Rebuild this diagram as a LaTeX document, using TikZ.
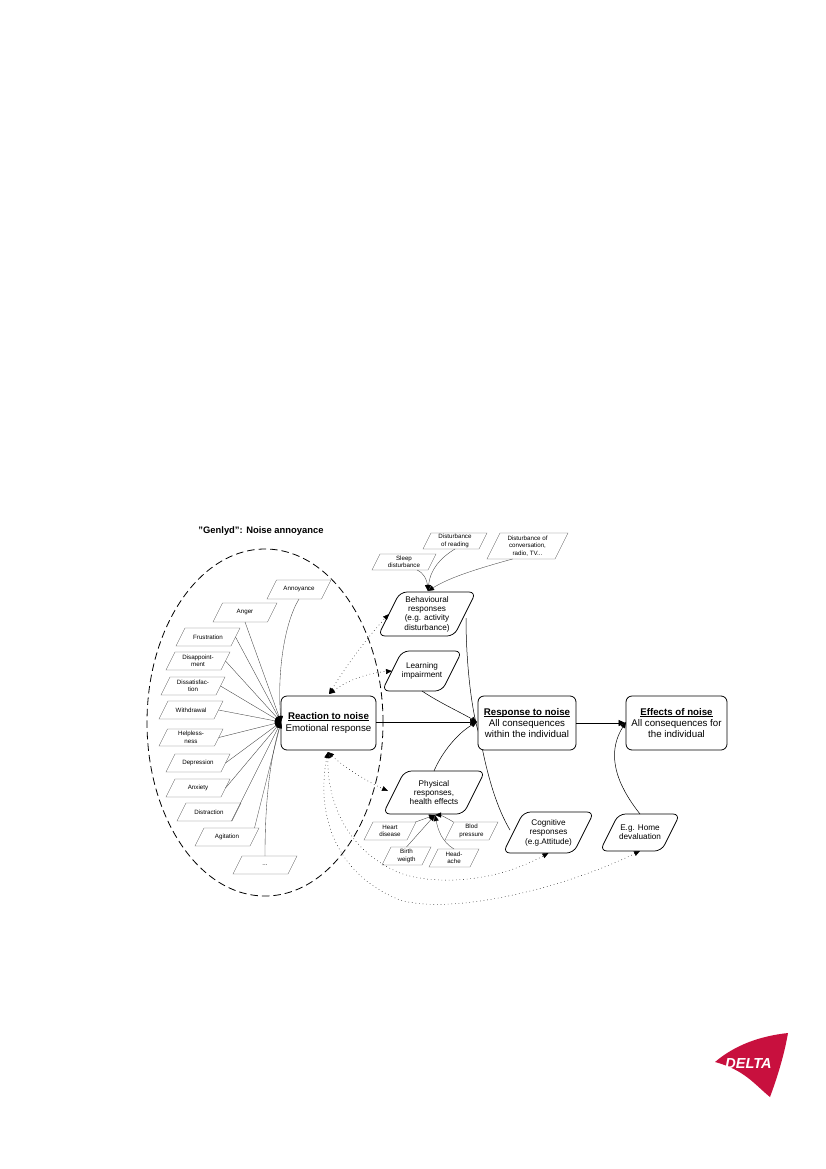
\documentclass[tikz,border=0pt]{standalone}
\usepackage{fontspec}
\setmainfont{Liberation Sans}
\usetikzlibrary{shapes.geometric,arrows.meta}
\definecolor{deltared}{HTML}{C8103E}
\tikzset{
  x=1pt,y=-1pt,
  smallpoly/.style={draw=black!60,line width=.35pt,fill=white},
  midpoly/.style={draw=black,line width=.75pt,rounded corners=7pt,fill=white},
  smalltxt/.style={inner sep=0pt,outer sep=0pt,align=center,font=\fontsize{6.2}{7.5}\selectfont},
  midtxt/.style={inner sep=0pt,outer sep=0pt,align=center,font=\fontsize{8.2}{9.4}\selectfont},
  mainbox/.style={draw=black,line width=.8pt,rounded corners=6pt,fill=white,inner sep=0pt,align=center,font=\fontsize{9.7}{11.4}\selectfont},
  thinl/.style={draw=black!75,line width=.35pt},
  curvel/.style={draw=black,line width=.5pt},
  arr/.style={-{Triangle[length=6pt,width=5pt,black]}},
  solidarr/.style={draw=black,line width=.7pt,-{Triangle[length=7pt,width=6pt]}},
  dotl/.style={draw=black,line width=.5pt,dash pattern=on .6pt off 3pt,{Triangle[length=6pt,width=5pt]}-{Triangle[length=6pt,width=5pt]}},
}
% style prefix, name, cx, cy, width, height, text
\newcommand{\pgm}[7]{%
  \pgfmathsetmacro{\sk}{0.5*#6}
  \path[#1poly] ({#3-#5/2},{#4+#6/2}) -- ({#3-#5/2+\sk},{#4-#6/2}) -- ({#3+#5/2},{#4-#6/2}) -- ({#3+#5/2-\sk},{#4+#6/2}) -- cycle;
  \node[#1txt,minimum width={(#5-\sk)*1pt},minimum height={#6*1pt}] (#2) at (#3,#4) {#7};
}
\newsavebox{\ulbox}
\newcommand{\ulbf}[1]{\sbox{\ulbox}{\bfseries #1}\rlap{\rule[-1.1pt]{\wd\ulbox}{.65pt}}\usebox{\ulbox}}
\begin{document}
\begin{tikzpicture}
\useasboundingbox (0,0) rectangle (826,1169);
\fill[white] (0,0) rectangle (826,1169);
\node[font=\fontsize{9.4}{11}\selectfont\bfseries] (title) at (261,531.5) {"Genlyd": Noise annoyance};
\node[draw=black,dash pattern=on 7.5pt off 4pt,line width=.8pt,shape=ellipse,minimum width=236,minimum height=347,inner sep=0pt] (ell) at (265,722.5) {};

\coordinate (hubR) at (281,722);
\coordinate (hubB) at (428,591);
\coordinate (hubP) at (435,815);
\coordinate (hubS) at (477,722);
\coordinate (hubE) at (626,722);
\coordinate (rtop) at (329,694);
\coordinate (rbot) at (328,752);
\coordinate (pl) at (388,791);

% small nodes
\pgm{small}{annoy}{299}{589.5}{64}{19}{Annoyance}
\pgm{small}{anger}{245}{612.5}{64}{19}{Anger}
\pgm{small}{frus}{208}{637}{64}{18}{Frustration}
\pgm{small}{disa}{198}{661}{64}{18}{Disappoint-\\ment}
\pgm{small}{diss}{193}{686}{64}{18}{Dissatisfac-\\tion}
\pgm{small}{with}{191}{710}{64}{18}{Withdrawal}
\pgm{small}{help}{191}{737.5}{64}{17}{Helpless-\\ness}
\pgm{small}{depr}{198}{763}{64}{18}{Depression}
\pgm{small}{anxi}{198}{788}{64}{18}{Anxiety}
\pgm{small}{dist}{209}{812}{64}{18}{Distraction}
\pgm{small}{agit}{227}{837}{64}{18}{Agitation}
\pgm{small}{etc}{265}{865}{64}{18}{...}
\pgm{small}{sleep}{404}{562}{64}{16}{Sleep\\disturbance}
\pgm{small}{read}{455}{541}{64}{16}{Disturbance\\of reading}
\pgm{small}{conv}{527.5}{546}{81}{26}{Disturbance of\\conversation,\\radio, TV...}
\pgm{small}{heart}{390}{831}{52}{18}{Heart\\disease}
\pgm{small}{blod}{471.5}{831}{53}{18}{Blod\\pressure}
\pgm{small}{birth}{406.5}{856}{49}{18}{Birth\\weigth}
\pgm{small}{head}{454}{858}{50}{18}{Head-\\ache}

% behavioural -> cognitive curve runs behind the boxes
\coordinate (bc) at (466,618);
\coordinate (cc) at (510,830);
\draw[curvel] (bc) .. controls (466,665) and (472,715) .. (480,737) .. controls (488,780) and (498,810) .. (cc);

% medium nodes
\pgm{mid}{beh}{427}{614}{98}{44}{Behavioural\\responses\\(e.g. activity\\disturbance)}
\pgm{mid}{learn}{422}{671}{80}{40}{Learning\\impairment}
\pgm{mid}{phys}{434}{792.5}{102}{43}{Physical\\responses,\\health effects}
\pgm{mid}{cogn}{548.5}{832.5}{91}{41}{Cognitive\\responses\\(e.g.Attitude)}
\pgm{mid}{home}{640}{832.5}{80}{37}{E.g. Home\\devaluation}

% main boxes
\node[mainbox,minimum width=95,minimum height=54] (react) at (328.5,723) {\ulbf{Reaction to noise}\\Emotional response};
\node[mainbox,minimum width=98,minimum height=54] (resp) at (527,723) {\ulbf{Response to noise}\\All consequences\\within the individual};
\node[mainbox,minimum width=101,minimum height=54] (eff) at (676.5,723) {\ulbf{Effects of noise}\\All consequences for\\the individual};

% fan to reaction
\draw[thinl,arr] (annoy.south) .. controls (285,622) and (277,670) .. (hubR);
\draw[thinl,arr] (anger.south) -- (hubR);
\foreach \n in {frus,disa,diss,with,help,depr,anxi}
  \draw[thinl,arr] (\n.east) -- (hubR);
\draw[thinl,arr] (dist.south east) ++(-5,0) -- (hubR);
\draw[thinl,arr] (agit.north east) -- (hubR);
\draw[thinl,arr] (etc.north) .. controls (265,820) and (267,770) .. (hubR);

% fan to behavioural
\draw[thinl,arr] (sleep.south) ++(13,0) .. controls (424,573) and (427,580) .. (hubB);
\draw[thinl,arr] (read.south) .. controls (440,558) and (430,570) .. (hubB);
\draw[thinl,arr] (conv.south) ++(-15,0) .. controls (480,568) and (450,577) .. (hubB);

% fan to physical
\draw[thinl,arr] (heart.north east) ++(4,0) -- (hubP);
\draw[thinl,arr] (blod.north west) ++(4,0) .. controls (447,818) and (440,815) .. (hubP);
\draw[thinl,arr] (birth.north) -- (hubP);
\draw[thinl,arr] (head.north) .. controls (442,842) and (438,830) .. (hubP);

% solid connectors
\draw[solidarr] (react.east) ++(0,-1) -- (hubS);
\draw[solidarr] (resp.east) -- (eff.west);
\draw[curvel,arr] (learn.south) .. controls (440,703) and (460,712) .. (hubS);
\draw[curvel,arr] (phys.north) .. controls (442,752) and (458,733) .. (hubS);
\draw[curvel,arr] (home.north) .. controls (625,795) and (602,760) .. (hubE);

% dotted connectors
\draw[dotl] (rtop) .. controls (345,668) and (365,640) .. (beh.west);
\draw[dotl] (rtop) .. controls (348,680) and (368,673) .. (learn.west);
\draw[dotl] (rbot) .. controls (345,768) and (370,783) .. (pl);
\draw[dotl] (rbot) .. controls (327,800) and (345,850) .. (400,873) .. controls (430,884) and (490,885) .. (cogn.south);
\draw[dotl] (rbot) .. controls (318,800) and (325,870) .. (400,900) .. controls (450,915) and (560,890) .. (home.south);

% logo
\fill[deltared] (715,1062) .. controls (735,1045) and (760,1036) .. (788,1033)
  .. controls (784,1056) and (777,1078) .. (770,1097)
  .. controls (755,1085) and (745,1070) .. (715,1062) -- cycle;
\node[font=\fontsize{14.5}{14}\selectfont\bfseries\itshape,text=white,inner sep=0pt] (logo) at (748.5,1063) {DELTA};
\end{tikzpicture}
\end{document}
